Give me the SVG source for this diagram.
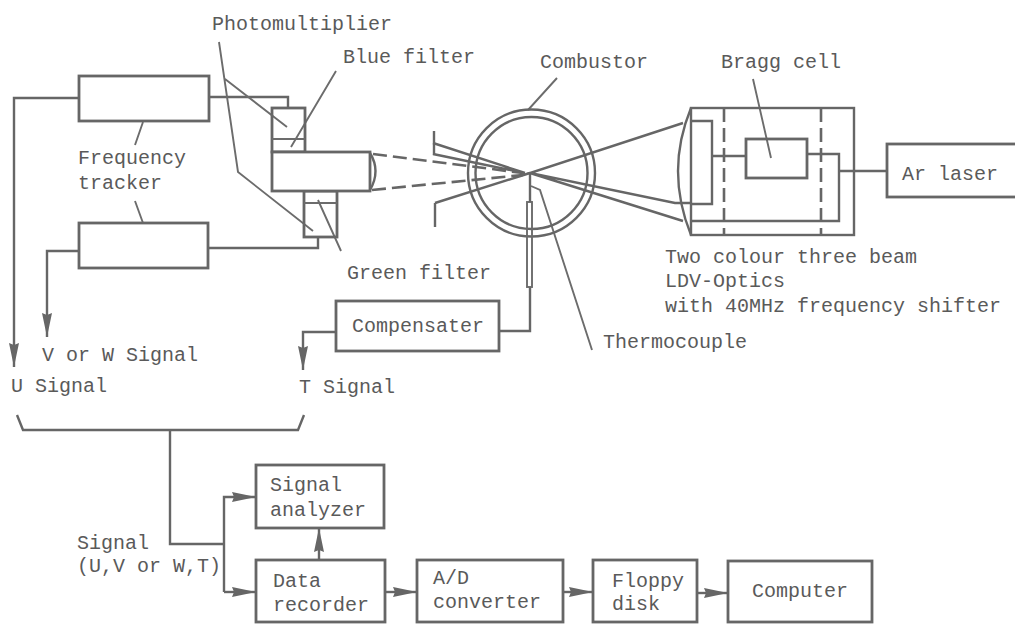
<svg xmlns="http://www.w3.org/2000/svg" width="1015" height="624" viewBox="0 0 1015 624">
<style>
.b{fill:#fff;stroke:#666;stroke-width:2.8}
.l{fill:none;stroke:#666;stroke-width:2.4}
.t{fill:none;stroke:#6c6c6c;stroke-width:1.9}
.d{fill:none;stroke:#666;stroke-width:2.6;stroke-dasharray:14 6}
text{font-family:"Liberation Mono","DejaVu Sans Mono",monospace;font-size:20px;fill:#5a5a5a}
</style>
<defs>
<marker id="a" markerUnits="userSpaceOnUse" markerWidth="26" markerHeight="12" refX="24" refY="5" orient="auto"><path d="M0 0L24 5L0 10L2 5Z" fill="#666"/></marker>
</defs>
<rect width="1015" height="624" fill="#fff"/>
<g id="connectors">
<path class="l" d="M79 98H14V367" marker-end="url(#a)"/>
<path class="l" d="M79 251H47V337" marker-end="url(#a)"/>
<path class="l" d="M209 97H288V108"/>
<path class="l" d="M208 248H318V237"/>
<path class="l" d="M336 332H303V370" marker-end="url(#a)"/>
<path class="l" d="M499 331H530V287"/>
<path class="l" d="M17 415L23 430H298L304 415"/>
<path class="l" d="M170 430V544H224"/>
<path class="l" d="M224 592V497H256" marker-end="url(#a)"/>
<path class="l" d="M224 592H256" marker-end="url(#a)"/>
<path class="l" d="M319 560V528" marker-end="url(#a)"/>
<path class="l" d="M385 592H417" marker-end="url(#a)"/>
<path class="l" d="M563 592H593" marker-end="url(#a)"/>
<path class="l" d="M697 593H728" marker-end="url(#a)"/>
<path class="l" d="M712 156H746"/>
<path class="l" d="M807 154H839V221H691"/>
<path class="l" d="M839 171H887"/>
<path class="d" d="M373 154L523 173"/>
<path class="d" d="M372 190L523 175"/>
<path class="l" d="M433 143L525 173M433 154L525 173M435 203L530 173"/>
<path class="l" d="M683 123L530 173L675 203H691M683 221L530 173"/>
<path class="t" d="M219 42L238 172L313 231M225 79L287 127M336 71L291 147M318 200L341 251"/>
<path class="t" d="M143 122L135 145M135 201L143 223M557 78L528 110M753 79L771 158M531 186L540 190L592 350"/>
</g>
<g id="tracker-u"><rect class="b" x="79" y="76" width="130" height="45"/></g>
<g id="tracker-v"><rect class="b" x="79" y="223" width="129" height="45"/></g>
<g id="tracker-label"><text x="78" y="164">Frequency</text><text x="78" y="189">tracker</text></g>
<g id="receiver">
<rect class="b" x="272" y="108" width="33" height="44" fill-opacity="0"/>
<path class="t" d="M272 139H305"/>
<rect class="b" x="304" y="191" width="33" height="46" fill-opacity="0"/>
<path class="t" d="M304 203H337"/>
<rect class="b" x="272" y="152" width="98" height="39"/>
<path class="l" d="M370 153Q381 171 370 190"/>
</g>
<g id="labels-receiver">
<text x="212" y="30">Photomultiplier</text>
<text x="343" y="63">Blue filter</text>
<text x="347" y="279">Green filter</text>
</g>
<g id="aperture"><path class="l" d="M434 131V155M435 203V227"/></g>
<g id="combustor">
<circle class="l" cx="531.500" cy="173" r="63.500"/>
<circle class="l" cx="531.500" cy="173" r="56"/>
<text x="540" y="68">Combustor</text>
</g>
<g id="thermocouple">
<rect x="527" y="202" width="5" height="85" class="t"/>
<path class="l" d="M530 173V202"/>
<text x="603" y="348">Thermocouple</text>
</g>
<g id="ldv-optics">
<rect class="l" x="691" y="108" width="163" height="127"/>
<path class="l" d="M691 108Q665 171 691 235"/>
<path class="l" d="M691 121H712V204H691"/>
<path class="d" d="M724 108V235M821 108V235"/>
<text x="665" y="263">Two colour three beam</text>
<text x="665" y="287">LDV-Optics</text>
<text x="665" y="312">with 40MHz frequency shifter</text>
</g>
<g id="bragg-cell"><rect class="b" x="746" y="139" width="61" height="39" fill-opacity="0"/><text x="721" y="68">Bragg cell</text></g>
<g id="ar-laser"><rect class="b" x="887" y="144" width="140" height="53"/><text x="902" y="180">Ar laser</text></g>
<g id="compensater"><rect class="b" x="336" y="301" width="163" height="50"/><text x="352" y="332">Compensater</text></g>
<g id="signals">
<text x="42" y="361">V or W Signal</text>
<text x="11" y="392">U Signal</text>
<text x="299" y="393">T Signal</text>
<text x="77" y="549">Signal</text>
<text x="77" y="572">(U,V or W,T)</text>
</g>
<g id="signal-analyzer"><rect class="b" x="256" y="465" width="128" height="63"/><text x="270" y="491">Signal</text><text x="270" y="516">analyzer</text></g>
<g id="data-recorder"><rect class="b" x="256" y="560" width="129" height="62"/><text x="273" y="587">Data</text><text x="273" y="611">recorder</text></g>
<g id="ad-converter"><rect class="b" x="417" y="560" width="146" height="62"/><text x="433" y="584">A/D</text><text x="433" y="608">converter</text></g>
<g id="floppy-disk"><rect class="b" x="593" y="560" width="104" height="62"/><text x="612" y="587">Floppy</text><text x="612" y="610">disk</text></g>
<g id="computer"><rect class="b" x="728" y="561" width="144" height="61"/><text x="752" y="597">Computer</text></g>
</svg>
